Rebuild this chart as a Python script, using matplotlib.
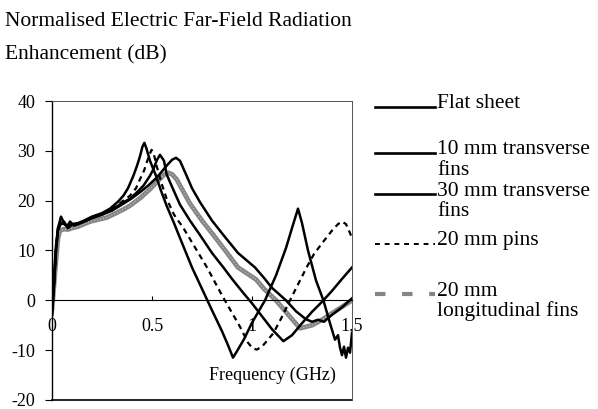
import matplotlib
matplotlib.use('Agg')
import matplotlib.pyplot as plt
from matplotlib.lines import Line2D

plt.rcParams['font.family'] = ['Liberation Serif', 'DejaVu Serif']
plt.rcParams['axes.unicode_minus'] = False

# values: frequency (GHz) and enhancement (dB)
flat_f = [0, 0.01, 0.02, 0.03, 0.045, 0.06, 0.075, 0.09, 0.11, 0.13, 0.16, 0.2, 0.25, 0.3,
          0.357, 0.4, 0.44, 0.48, 0.523, 0.573, 0.6, 0.62, 0.64, 0.673, 0.7, 0.74, 0.8, 0.857,
          0.93, 1.015, 1.06, 1.1, 1.17, 1.22, 1.27, 1.3, 1.33, 1.36, 1.38, 1.4, 1.45, 1.5]
flat_db = [-3, 3, 10, 14.5, 16.8, 15.5, 14.8, 15.8, 15, 15.3, 15.8, 16.5, 17.2, 18,
           19.4, 20.5, 21.7, 23, 24.6, 27, 28.2, 28.6, 28, 25, 22.5, 19.7, 16, 13.1,
           9.5, 6.6, 4.5, 2.5, 0, -2.2, -3.8, -4.3, -3.9, -4.3, -3.6, -2.9, -1.4, 0.4]

fins10_f = [0, 0.01, 0.02, 0.03, 0.045, 0.06, 0.08, 0.1, 0.13, 0.16, 0.2, 0.25, 0.3, 0.35,
            0.39, 0.42, 0.457, 0.49, 0.507, 0.525, 0.54, 0.56, 0.573, 0.6, 0.64, 0.69, 0.74,
            0.8, 0.857, 0.9, 0.95, 1.0, 1.05, 1.1, 1.157, 1.2, 1.25, 1.3, 1.35, 1.4, 1.45, 1.5]
fins10_db = [-2.5, 4, 11, 14.5, 15.5, 15.8, 14.5, 15.2, 15.3, 15.8, 16.6, 17.2, 18.2, 19.5,
             20.4, 21.5, 23, 25, 26.3, 28.2, 29.2, 28, 25.3, 22.8, 19.2, 16, 13.1,
             9.5, 6.6, 4.3, 1.8, -0.6, -3.2, -5.8, -8.2, -7, -4.6, -2.3, -0.3, 1.9, 4.3, 6.6]

fins30_f = [0, 0.01, 0.02, 0.03, 0.045, 0.06, 0.08, 0.1, 0.13, 0.16, 0.2, 0.25, 0.29, 0.33,
            0.357, 0.38, 0.407, 0.425, 0.44, 0.452, 0.462, 0.472, 0.49, 0.52, 0.545, 0.573,
            0.61, 0.64, 0.7, 0.75, 0.8, 0.85, 0.88, 0.905, 0.925, 0.96, 1.0, 1.065, 1.12,
            1.17, 1.2, 1.23, 1.25, 1.28, 1.32, 1.357, 1.39, 1.415, 1.43, 1.44, 1.45, 1.46,
            1.47, 1.48, 1.49, 1.5]
fins30_db = [-3, 3, 10, 14, 15.5, 15.3, 14.8, 15.3, 15.5, 16, 16.8, 17.5, 18.4, 19.8,
             21, 22.5, 25, 27, 28.9, 30.8, 31.6, 30.5, 28, 25, 22, 19,
             15.5, 12.5, 6.6, 2.3, -2, -6.2, -9, -11.5, -10.2, -7.8, -4.5, 0, 5,
             10.5, 14.5, 18.4, 15.5, 10, 4, 0, -4.6, -7.9, -7, -9.5, -11, -9.3,
             -11.5, -9.5, -10.5, -6.5]

pins_f = [0, 0.01, 0.02, 0.03, 0.045, 0.06, 0.08, 0.1, 0.13, 0.16, 0.2, 0.25, 0.3, 0.35,
          0.39, 0.42, 0.44, 0.46, 0.473, 0.487, 0.498, 0.51, 0.523, 0.545, 0.573, 0.61,
          0.657, 0.69, 0.775, 0.85, 0.9, 0.94, 0.98, 1.0, 1.023, 1.05, 1.107, 1.15, 1.19,
          1.23, 1.273, 1.31, 1.357, 1.4, 1.43, 1.45, 1.47, 1.49, 1.5]
pins_db = [-3, 3, 10, 14, 15.5, 15.3, 14.5, 15.3, 15.4, 15.8, 16.7, 17.3, 18.3, 19.8,
           21, 22.5, 24.3, 26, 27.6, 29.2, 30.2, 29.2, 27, 23.8, 20.4, 17.2,
           14.5, 12.3, 6.6, 1, -2.5, -5.3, -8.5, -9.5, -9.9, -9.3, -6.6, -3.3, 0,
           3.2, 6.6, 9.3, 11.8, 14, 15.3, 15.8, 15.3, 13.5, 12.5]

long_f = [0, 0.01, 0.02, 0.03, 0.04, 0.06, 0.08, 0.1, 0.13, 0.16, 0.19, 0.23, 0.273, 0.32,
          0.36, 0.39, 0.44, 0.49, 0.53, 0.56, 0.58, 0.6, 0.623, 0.69, 0.75, 0.807, 0.87,
          0.93, 1.02, 1.06, 1.12, 1.19, 1.24, 1.3, 1.35, 1.4, 1.45, 1.5]
long_db = [-2, 3, 8, 12.5, 14, 14.3, 14.2, 14.5, 14.8, 15.3, 15.8, 16.2, 16.6, 17.5,
           18.3, 19, 20.5, 22.3, 24, 25.2, 25.6, 25.3, 24.3, 19.4, 16, 13.1, 9.8,
           6.6, 4.2, 2.3, 0, -3.3, -5.6, -5, -3.9, -2.6, -1.3, 0]

y_ticks = [40, 30, 20, 10, 0, -10, -20]
x_ticks = [0, 0.5, 1, 1.5]
x_labels = ['0', '0.5', '1', '1.5']

W, H = 598, 409
fig = plt.figure(figsize=(W / 100, H / 100), dpi=100)
# plot area: x 52..352 px, y 101..400 px
ax = fig.add_axes([52 / W, 1 - 400 / H, 300 / W, 299 / H])

gray = '#858585'
ax.plot(long_f, long_db, color=gray, lw=3.4, solid_capstyle='butt', zorder=2)
# speckled look of the grey trace
ax.plot(long_f, long_db, color='#c8c8c8', lw=1.0, dashes=(0.6, 1.6), zorder=2)
ax.plot(flat_f, flat_db, color='black', lw=1.8, zorder=3)
ax.plot(fins10_f, fins10_db, color='black', lw=1.8, zorder=3)
ax.plot(fins30_f, fins30_db, color='black', lw=1.8, zorder=3)
ax.plot(pins_f, pins_db, color='black', lw=1.6, dashes=(2.5, 2), zorder=3)

ax.set_xlim(0, 1.5)
ax.set_ylim(-20, 40)

# x axis drawn through 0 dB, frame line kept at the bottom
ax.spines['bottom'].set_position(('data', 0))
ax.spines['bottom'].set_linewidth(0.8)
ax.axhline(-20, color='black', lw=1.2, clip_on=False, zorder=1)
ax.spines['left'].set_linewidth(1.0)
for s in ['top', 'right']:
    ax.spines[s].set_linewidth(0.7)
    ax.spines[s].set_color('#555555')

ax.set_xticks(x_ticks)
ax.set_xticklabels(x_labels)
ax.set_yticks(y_ticks)
ax.tick_params(axis='x', direction='in', length=3, pad=13, labelsize=13)
ax.tick_params(axis='y', direction='out', length=5, pad=7, labelsize=13)

ax.text(1.1, -15, 'Frequency (GHz)', ha='center', va='center', fontsize=13)

fig.text(0.008, 1 - 22 / H, 'Normalised Electric Far-Field Radiation', fontsize=15.5,
         ha='left', va='center')
fig.text(0.008, 1 - 55 / H, 'Enhancement (dB)', fontsize=15.5, ha='left', va='center')

# legend drawn to the right of the plot, as in the original (positions in px)
x0, x1, xt = 375 / W, 435 / W, 437 / W
entries = [
    (104, ['Flat sheet'], dict(color='black', lw=1.9)),
    (150, ['10 mm transverse', 'fins'], dict(color='black', lw=1.9)),
    (191, ['30 mm transverse', 'fins'], dict(color='black', lw=1.9)),
    (241, ['20 mm pins'], dict(color='black', lw=1.4, dashes=(2.5, 2.5))),
    (291, ['20 mm', 'longitudinal fins'], dict(color=gray, lw=3, dashes=(2.5, 4))),
]
for y, lines, style in entries:
    yl = 1 - (y + 3) / H
    fig.add_artist(Line2D([x0, x1], [yl, yl], transform=fig.transFigure, **style))
    for i, line in enumerate(lines):
        fig.text(xt, 1 - (y + 20.5 * i) / H, line, fontsize=15.5, ha='left', va='center')

fig.savefig('out.png', dpi=100)
